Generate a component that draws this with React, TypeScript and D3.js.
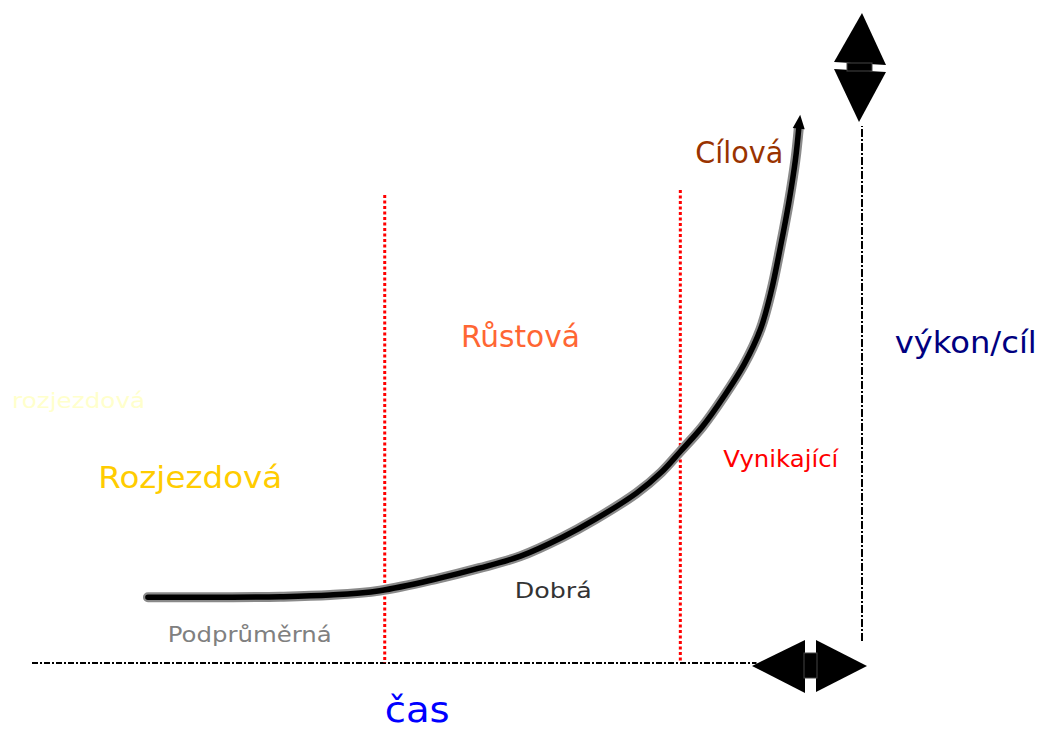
import React, { useEffect, useRef } from "react";
import * as d3 from "d3";

// curve: time (x) vs. performance (y), both on a 0..100 scale
const timeValues = [14, 22, 30, 36, 42, 49, 54, 59, 64, 68, 73, 76, 78.3, 81, 83.5, 86, 88, 89.3, 90.4, 91.4, 92.2, 92.6];
const perfValues = [12, 12, 12.1, 12.4, 13.2, 15.4, 17.3, 19.5, 22.9, 26.2, 31, 34.8, 38.6, 43.2, 48.5, 54.5, 61, 68, 76, 84, 91.8, 97.5];

// phase borders (red dotted lines)
const borderTimes = [42.6, 78.3];
const borderTops = [85.4, 86.3];

const phaseLabels = ["Rozjezdová", "Růstová", "Cílová"];
const levelLabels = ["Podprůměrná", "Dobrá", "Vynikající"];
const ghostLabel = "rozjezdová";
const xAxisLabel = "čas";
const yAxisLabel = "výkon/cíl";

const W = 1054;
const H = 734;
const FONT = "'Comic Sans MS', 'DejaVu Sans', sans-serif";

const App = () => {
  const ref = useRef<SVGSVGElement | null>(null);

  useEffect(() => {
    const svg = d3.select(ref.current);
    svg.selectAll("*").remove();

    const x = d3.scaleLinear().domain([0, 100]).range([32, 860]);
    const y = d3.scaleLinear().domain([0, 100]).range([663, 115]);

    const g = svg.append("g");

    // x axis (dash-dot)
    g.append("line")
      .attr("x1", x(0)).attr("x2", x(87.5))
      .attr("y1", y(0)).attr("y2", y(0))
      .attr("stroke", "black").attr("stroke-width", 2)
      .attr("stroke-dasharray", "6 2 2 2");

    // y axis (dash-dot)
    g.append("line")
      .attr("x1", x(100) + 2).attr("x2", x(100) + 2)
      .attr("y1", y(4)).attr("y2", y(98))
      .attr("stroke", "black").attr("stroke-width", 2)
      .attr("stroke-dasharray", "8 2 2 2");

    // red phase borders
    borderTimes.forEach((t, i) => {
      g.append("line")
        .attr("x1", x(t)).attr("x2", x(t))
        .attr("y1", y(borderTops[i])).attr("y2", y(0))
        .attr("stroke", "#ff0000").attr("stroke-width", 3)
        .attr("stroke-dasharray", "3 2.5");
    });

    // top double arrow
    const tx = x(100) + 2;
    const top = g.append("g").attr("fill", "black");
    top.append("path").attr("d", `M${tx},13 L${tx - 28},62 L${tx + 24},65 Z`);
    top.append("path").attr("d", `M${tx - 28},69 L${tx + 24},72 L${tx - 3},122 Z`);
    top.append("rect").attr("x", tx - 15).attr("y", 63).attr("width", 25).attr("height", 8)
      .attr("stroke", "#444").attr("stroke-width", 1);

    // bottom double arrow
    const by = y(0) + 3;
    const bot = g.append("g").attr("fill", "black");
    bot.append("path").attr("d", `M752,${by} L805,${by - 26} L805,${by + 27} Z`);
    bot.append("path").attr("d", `M816,${by - 26} L816,${by + 26} L867,${by} Z`);
    bot.append("rect").attr("x", 804).attr("y", by - 13).attr("width", 13).attr("height", 25)
      .attr("stroke", "#444").attr("stroke-width", 1);

    // growth curve
    const pts: [number, number][] = timeValues.map((t, i) => [x(t), y(perfValues[i])]);
    const line = d3.line().curve(d3.curveCatmullRom.alpha(0.5));
    g.append("path").attr("d", line(pts))
      .attr("fill", "none").attr("stroke", "#8a8a8a").attr("stroke-width", 10)
      .attr("stroke-linecap", "round").attr("stroke-linejoin", "round");
    g.append("path").attr("d", line(pts))
      .attr("fill", "none").attr("stroke", "black").attr("stroke-width", 5.5)
      .attr("stroke-linecap", "round").attr("stroke-linejoin", "round");

    // arrowhead at curve end
    const [px, py] = pts[pts.length - 2];
    const [ex, ey] = pts[pts.length - 1];
    const ang = Math.atan2(ey - py, ex - px);
    const tipX = ex + 14 * Math.cos(ang);
    const tipY = ey + 14 * Math.sin(ang);
    const nx = -Math.sin(ang) * 6;
    const ny = Math.cos(ang) * 6;
    g.append("path")
      .attr("d", `M${tipX},${tipY} L${ex + nx},${ey + ny} L${ex - nx},${ey - ny} Z`)
      .attr("fill", "black");

    // labels: [text, time, perf, color, size, width, anchor]
    const labels: [string, number, number, string, number, number, string][] = [
      [ghostLabel, -2.4, 46.5, "#ffffcc", 22, 133, "start"],
      [phaseLabels[0], 8, 32, "#ffcc00", 31, 184, "start"],
      [phaseLabels[1], 51.8, 57.7, "#ff6633", 31, 119, "start"],
      [phaseLabels[2], 80.1, 91.2, "#993300", 31, 88, "start"],
      [levelLabels[0], 16.4, 3.8, "#808080", 22, 164, "start"],
      [levelLabels[1], 58.3, 11.9, "#333333", 22, 77, "start"],
      [levelLabels[2], 83.5, 35.8, "#ff0000", 23, 115, "start"],
      [yAxisLabel, 104.2, 56.5, "#000080", 30, 142, "start"],
      [xAxisLabel, 42.6, -10.8, "#0000ff", 36, 65, "start"],
    ];
    labels.forEach(([txt, t, p, color, size, width, anchor]) => {
      g.append("text")
        .attr("x", x(t)).attr("y", y(p))
        .attr("fill", color)
        .attr("font-family", FONT)
        .attr("font-size", size)
        .attr("text-anchor", anchor)
        .attr("textLength", width)
        .attr("lengthAdjust", "spacingAndGlyphs")
        .text(txt);
    });
  }, []);

  return (
    <div style={{ position: "absolute", left: 0, top: 0, width: W, height: H, background: "white" }}>
      <svg ref={ref} width={W} height={H} style={{ display: "block" }}></svg>
    </div>
  );
};

export default App;
